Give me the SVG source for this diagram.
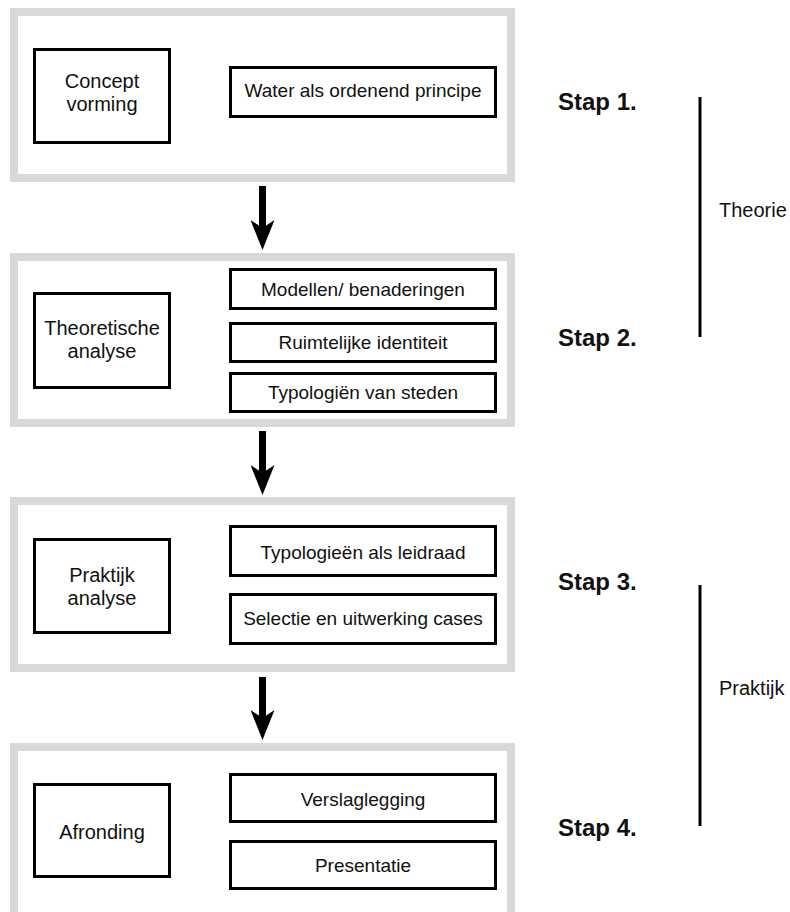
<svg xmlns="http://www.w3.org/2000/svg" width="790" height="912" viewBox="0 0 790 912">
<defs>
<style>
.panel{fill:#fff;stroke:#d9d9d9;stroke-width:8}
.box{fill:#fff;stroke:#000;stroke-width:3}
.t{font-family:"Liberation Sans",Arial,Helvetica,sans-serif;font-size:19px;fill:#111;text-anchor:middle}
.l{font-size:20px}
.stap{font-family:"Liberation Sans",Arial,Helvetica,sans-serif;font-size:24px;font-weight:bold;fill:#111}
.side{font-family:"Liberation Sans",Arial,Helvetica,sans-serif;font-size:20px;fill:#111}
.bar{stroke:#000;stroke-width:3}
.shaft{stroke:#000;stroke-width:7}
</style>
<marker id="ah" markerUnits="userSpaceOnUse" markerWidth="30" markerHeight="24" refX="12" refY="12" orient="auto" viewBox="0 0 30 24">
<path d="M0,0 L8,12 L0,24 L30,12 Z" fill="#000"/>
</marker>
</defs>
<rect width="790" height="912" fill="#fff"/>

<g id="panel1">
<rect class="panel" x="14" y="12" width="497" height="166"/>
<g id="concept"><rect class="box" x="34.5" y="49.5" width="135" height="93"/>
<text class="t l" x="102" y="88">Concept</text><text class="t l" x="102" y="111">vorming</text></g>
<g id="water"><rect class="box" x="230.5" y="67.5" width="265" height="49"/>
<text class="t" x="363" y="97">Water als ordenend principe</text></g>
</g>

<g id="panel2">
<rect class="panel" x="14" y="257" width="497" height="166"/>
<g id="theoretische"><rect class="box" x="34.5" y="293.5" width="135" height="94"/>
<text class="t l" x="102" y="335">Theoretische</text><text class="t l" x="102" y="358">analyse</text></g>
<g id="modellen"><rect class="box" x="230.5" y="269.5" width="265" height="39"/>
<text class="t" x="363" y="296">Modellen/ benaderingen</text></g>
<g id="ruimtelijke"><rect class="box" x="230.5" y="323.5" width="265" height="38"/>
<text class="t" x="363" y="349">Ruimtelijke identiteit</text></g>
<g id="typologien"><rect class="box" x="230.5" y="373.5" width="265" height="38"/>
<text class="t" x="363" y="399">Typologiën van steden</text></g>
</g>

<g id="panel3">
<rect class="panel" x="14" y="501" width="497" height="167"/>
<g id="praktijk"><rect class="box" x="34.5" y="539.5" width="135" height="93"/>
<text class="t l" x="102" y="582">Praktijk</text><text class="t l" x="102" y="605">analyse</text></g>
<g id="typologieen"><rect class="box" x="230.5" y="526.5" width="265" height="49"/>
<text class="t" x="363" y="559">Typologieën als leidraad</text></g>
<g id="selectie"><rect class="box" x="230.5" y="594.5" width="265" height="49"/>
<text class="t" x="363" y="625">Selectie en uitwerking cases</text></g>
</g>

<g id="panel4">
<rect class="panel" x="14" y="747" width="497" height="170"/>
<g id="afronding"><rect class="box" x="34.5" y="784.5" width="135" height="92"/>
<text class="t l" x="102" y="839">Afronding</text></g>
<g id="verslaglegging"><rect class="box" x="230.5" y="774.5" width="265" height="47"/>
<text class="t" x="363" y="806">Verslaglegging</text></g>
<g id="presentatie"><rect class="box" x="230.5" y="841.5" width="265" height="47"/>
<text class="t" x="363" y="872">Presentatie</text></g>
</g>

<g id="connectors">
<line class="shaft" x1="262.5" y1="186" x2="262.5" y2="232" marker-end="url(#ah)"/>
<line class="shaft" x1="262.5" y1="431" x2="262.5" y2="477" marker-end="url(#ah)"/>
<line class="shaft" x1="262.5" y1="677" x2="262.5" y2="722" marker-end="url(#ah)"/>
</g>

<g id="labels">
<text class="stap" x="558" y="110">Stap 1.</text>
<text class="stap" x="558" y="346">Stap 2.</text>
<text class="stap" x="558" y="590">Stap 3.</text>
<text class="stap" x="558" y="836">Stap 4.</text>
<line class="bar" x1="700" y1="97" x2="700" y2="337"/>
<text class="side" x="719" y="217">Theorie</text>
<line class="bar" x1="700" y1="585" x2="700" y2="826"/>
<text class="side" x="719" y="695">Praktijk</text>
</g>
</svg>
